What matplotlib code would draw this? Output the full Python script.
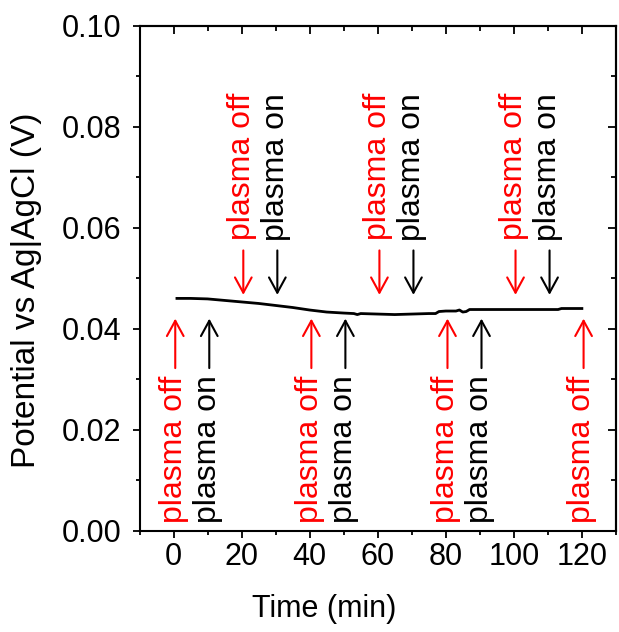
import matplotlib
matplotlib.use("Agg")
import matplotlib.pyplot as plt
from matplotlib.ticker import MultipleLocator, FormatStrFormatter

plt.rcParams['font.family'] = ['Liberation Sans', 'DejaVu Sans']

# Open-circuit potential recorded while the plasma is cycled
time_min = [1, 5, 10, 15, 20, 25, 30, 35, 40, 45, 50, 53, 54, 55, 60, 65, 70,
            75, 77, 78, 80, 83, 84, 85, 86, 87, 90, 95, 100, 105, 110, 113,
            114, 115, 120]
potential_v = [0.0460, 0.0460, 0.0459, 0.0456, 0.0453, 0.0450, 0.0446, 0.0442,
               0.0437, 0.0433, 0.0431, 0.0430, 0.0428, 0.0430, 0.0429, 0.0428,
               0.0429, 0.0430, 0.0430, 0.0434, 0.0435, 0.0435, 0.0437, 0.0433,
               0.0434, 0.0438, 0.0438, 0.0438, 0.0438, 0.0438, 0.0438, 0.0438,
               0.0440, 0.0440, 0.0440]

# Switching events: labels under the trace (arrow up) and above it (arrow down)
below_times = [0, 10, 40, 50, 80, 90, 120]
below_labels = ["plasma off", "plasma on", "plasma off", "plasma on",
                "plasma off", "plasma on", "plasma off"]
above_times = [20, 30, 60, 70, 100, 110]
above_labels = ["plasma off", "plasma on", "plasma off", "plasma on",
                "plasma off", "plasma on"]
label_colors = {"plasma off": "red", "plasma on": "black"}

fig = plt.figure(figsize=(6.19, 6.32), dpi=100)
ax = fig.add_axes([0.2254, 0.1603, 0.7696, 0.799])

ax.plot(time_min, potential_v, color="black", lw=2.0, zorder=3)

arrow_kw = dict(arrowstyle="->, head_length=0.55, head_width=0.3",
                lw=1.5, mutation_scale=20, shrinkA=0, shrinkB=0)

for t, label in zip(below_times, below_labels):
    col = label_colors[label]
    ax.text(t, 0.0015, label, rotation=90, ha="center", va="bottom",
            color=col, fontsize=23)
    ax.annotate("", xy=(t + 0.5, 0.0420), xytext=(t + 0.5, 0.0322),
                arrowprops=dict(color=col, **arrow_kw))

for t, label in zip(above_times, above_labels):
    col = label_colors[label]
    ax.text(t, 0.0867, label, rotation=90, ha="center", va="top",
            color=col, fontsize=23)
    ax.annotate("", xy=(t + 0.5, 0.0467), xytext=(t + 0.5, 0.0555),
                arrowprops=dict(color=col, **arrow_kw))

ax.set_xlim(-10, 130)
ax.set_ylim(0, 0.10)
ax.xaxis.set_major_locator(MultipleLocator(20))
ax.xaxis.set_minor_locator(MultipleLocator(10))
ax.yaxis.set_major_locator(MultipleLocator(0.02))
ax.yaxis.set_minor_locator(MultipleLocator(0.01))
ax.yaxis.set_major_formatter(FormatStrFormatter("%.2f"))

for side in ax.spines.values():
    side.set_linewidth(1.5)

ax.tick_params(which="both", direction="out", width=1.3, labelsize=22,
               top=False, right=False)
ax.tick_params(which="major", length=5)
ax.tick_params(which="minor", length=3)
ax.tick_params(axis="x", which="major", pad=3.5)
ax.tick_params(axis="y", which="major", pad=8)

# inward ticks on the top and right frame
sec_x = ax.secondary_xaxis("top")
sec_x.xaxis.set_major_locator(MultipleLocator(20))
sec_x.xaxis.set_minor_locator(MultipleLocator(10))
sec_x.tick_params(which="both", direction="in", width=1.3, labeltop=False)
sec_x.tick_params(which="major", length=6)
sec_x.tick_params(which="minor", length=3.5)
sec_x.spines["top"].set_linewidth(1.5)
sec_y = ax.secondary_yaxis("right")
sec_y.yaxis.set_major_locator(MultipleLocator(0.02))
sec_y.yaxis.set_minor_locator(MultipleLocator(0.01))
sec_y.tick_params(which="both", direction="in", width=1.3, labelright=False)
sec_y.tick_params(which="major", length=6)
sec_y.tick_params(which="minor", length=3.5)
sec_y.spines["right"].set_linewidth(1.5)

ax.set_xlabel("Time (min)", fontsize=22)
ax.set_ylabel("Potential vs Ag|AgCl (V)", fontsize=24)
ax.xaxis.set_label_coords(0.387, -0.125)
ax.yaxis.set_label_coords(-0.205, 0.477)

fig.savefig("out.png", dpi=100)
